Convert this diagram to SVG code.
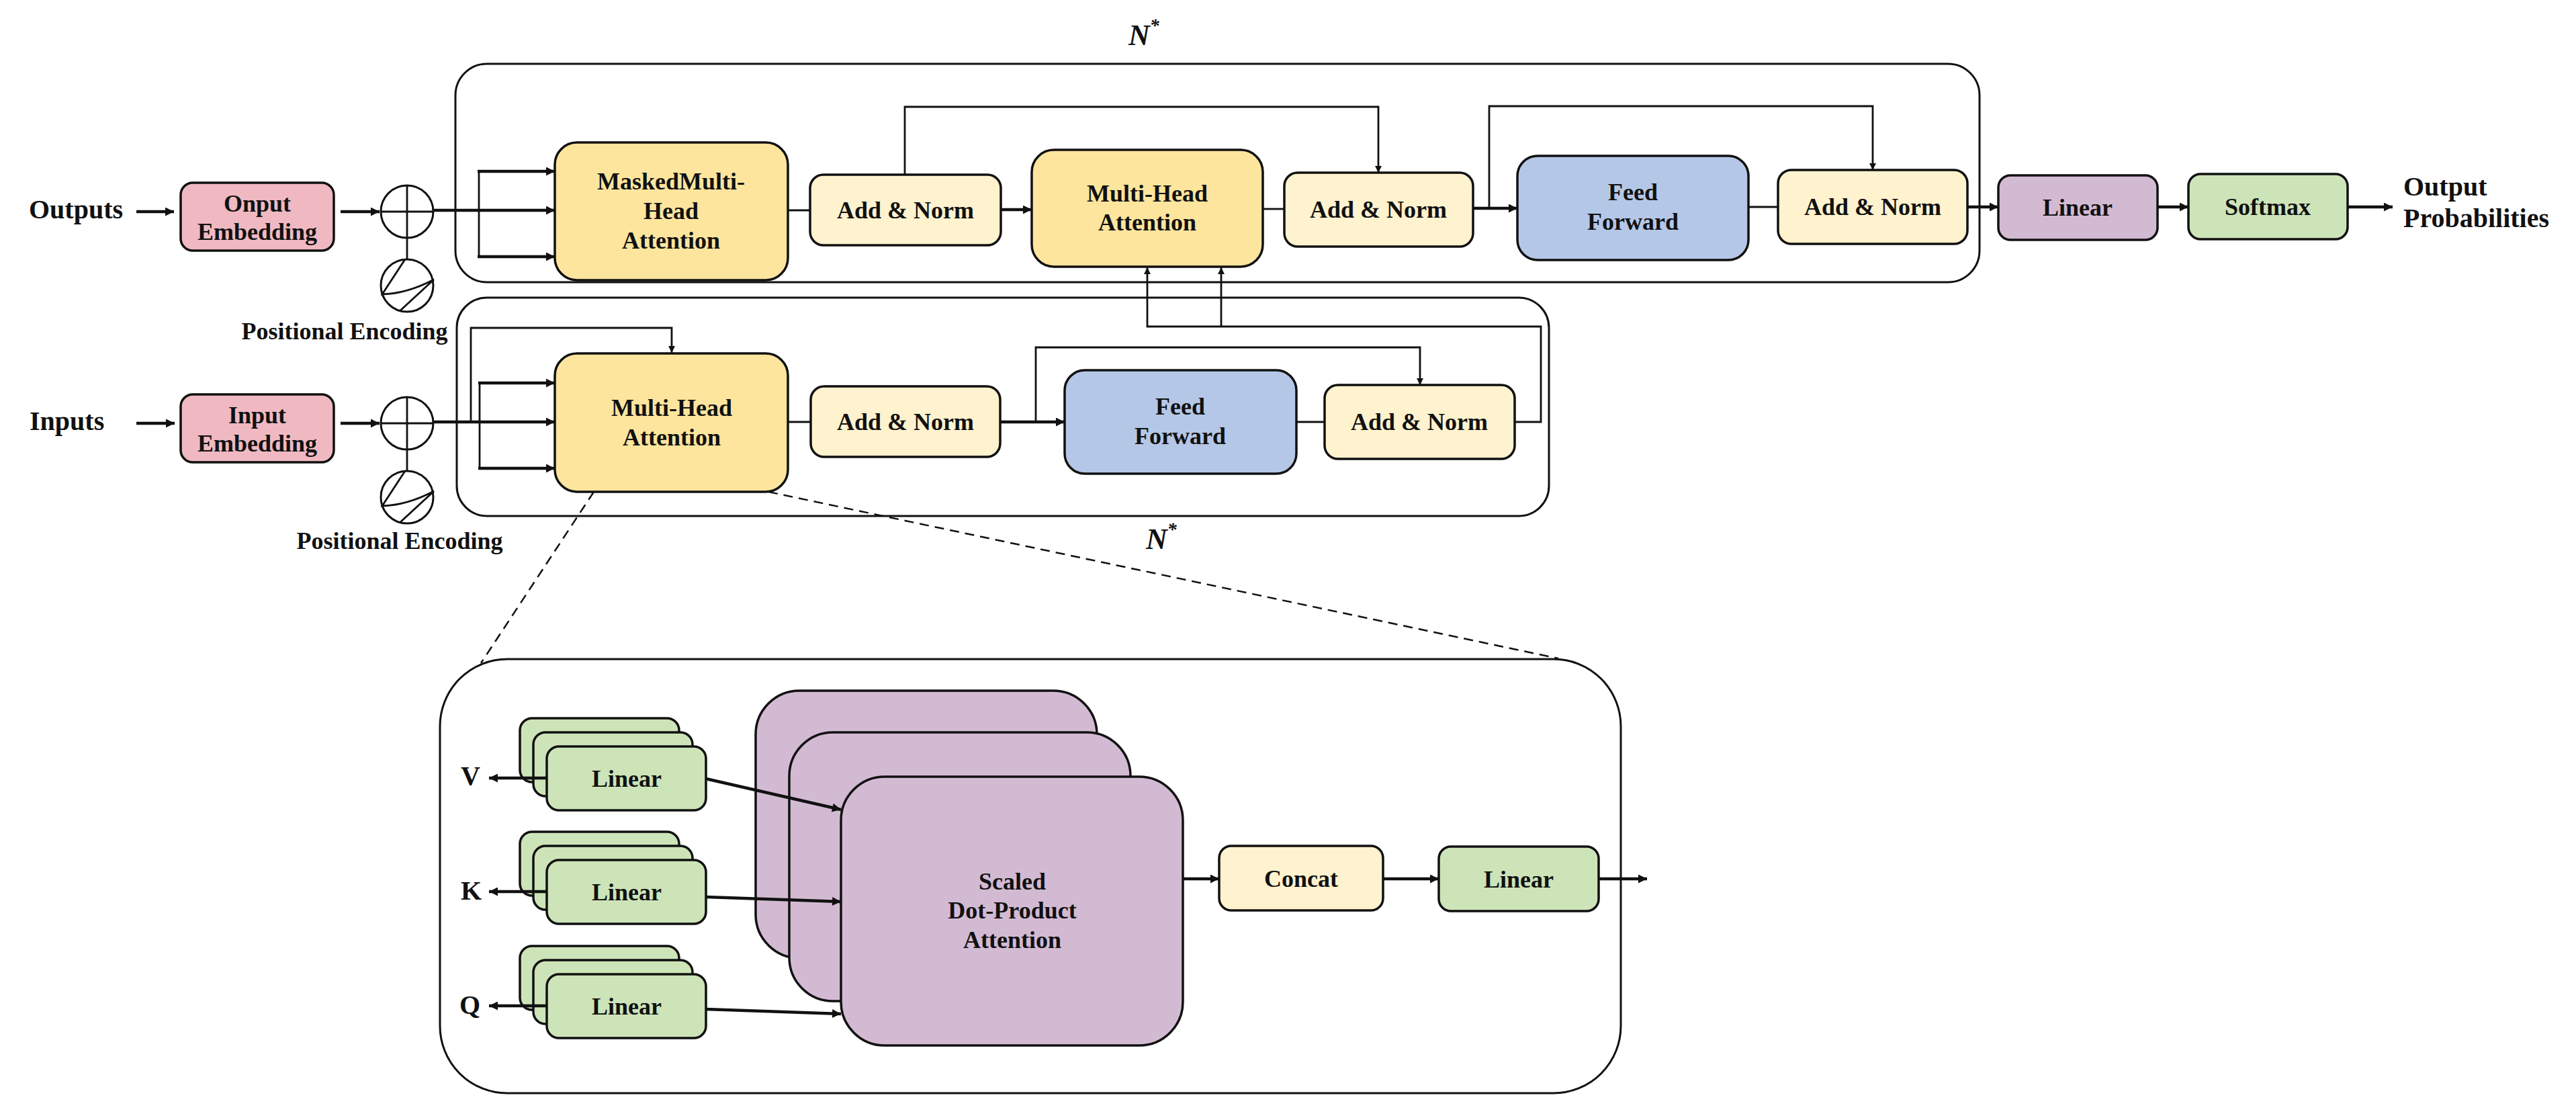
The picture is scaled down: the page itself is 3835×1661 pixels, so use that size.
<svg xmlns="http://www.w3.org/2000/svg" xmlns:xlink="http://www.w3.org/1999/xlink" width="3835" height="1661" viewBox="0 0 3835 1661">
<style>
.box{stroke:#111;stroke-width:3.5}
.cont{fill:none;stroke:#111;stroke-width:3}
.pink{fill:#F0B9C2}.gold{fill:#FDE59D}.cream{fill:#FFF2CE}.blue{fill:#B5C7E7}.purp{fill:#D3BAD3}.green{fill:#CDE4B8}
.t{font-family:"Liberation Serif",serif;font-weight:bold;font-size:36px;text-anchor:middle;fill:#111}
.l{font-family:"Liberation Serif",serif;font-weight:bold;font-size:40px;fill:#111}
.n{font-family:"Liberation Serif",serif;font-weight:bold;font-style:italic;font-size:44px;fill:#111}
.w{fill:none;stroke:#111;stroke-width:4.5}
.th{fill:none;stroke:#111;stroke-width:2.8}
.dash{fill:none;stroke:#111;stroke-width:2.5;stroke-dasharray:14 9}
.sym{fill:#fff;stroke:#111;stroke-width:3}
</style>
<defs>
<marker id="a" viewBox="0 0 10 10" refX="10" refY="5" markerWidth="16" markerHeight="13" markerUnits="userSpaceOnUse" orient="auto"><path d="M0,0L10,5L0,10z" fill="#111"/></marker>
<marker id="s" viewBox="0 0 10 10" refX="10" refY="5" markerWidth="13" markerHeight="10" markerUnits="userSpaceOnUse" orient="auto"><path d="M0,0L10,5L0,10z" fill="#111"/></marker>
<g id="plus"><circle r="39" class="sym"/><path d="M-39,0H39M0,-39V39" class="th"/></g>
<g id="sine"><circle r="39" class="sym"/><path d="M-3,-39L-37,13Q0,12 40,-9L-11,38" class="th"/></g>
</defs>

<g id="containers">
<rect id="decoder-block" x="678" y="95" width="2269" height="325" rx="47" class="cont"/>
<rect id="encoder-block" x="680" y="443" width="1626" height="325" rx="45" class="cont"/>
<rect id="attention-detail" x="655" y="981" width="1758" height="646" rx="100" class="cont"/>
</g>

<g id="labels">
<text class="n" x="1680" y="67">N<tspan font-size="28" dy="-20">*</tspan></text>
<text class="n" x="1706" y="817">N<tspan font-size="28" dy="-20">*</tspan></text>
<text class="l" x="43" y="325">Outputs</text>
<text class="l" x="44" y="640">Inputs</text>
<text class="l" x="3578" y="291">Output</text>
<text class="l" x="3578" y="338">Probabilities</text>
<text class="t" x="513" y="505">Positional Encoding</text>
<text class="t" x="595" y="817">Positional Encoding</text>
<text class="l" x="686" y="1168" font-size="44">V</text>
<text class="l" x="686" y="1339" font-size="44">K</text>
<text class="l" x="684" y="1509" font-size="44">Q</text>
</g>

<g id="onput-embedding"><rect x="269" y="272" width="228" height="101" rx="18" class="box pink"/><text class="t" x="383" y="315">Onput</text><text class="t" x="383" y="357">Embedding</text></g>
<g id="input-embedding"><rect x="269" y="587" width="228" height="101" rx="18" class="box pink"/><text class="t" x="383" y="630">Input</text><text class="t" x="383" y="672">Embedding</text></g>
<g id="dec-plus"><use xlink:href="#plus" x="606" y="315"/></g>
<g id="dec-pe"><use xlink:href="#sine" x="606" y="425"/></g>
<g id="enc-plus"><use xlink:href="#plus" x="606" y="630"/></g>
<g id="enc-pe"><use xlink:href="#sine" x="606" y="740"/></g>

<g id="masked-mha"><rect x="826" y="212" width="347" height="205" rx="33" class="box gold"/><text class="t" x="999" y="282">MaskedMulti-</text><text class="t" x="999" y="326">Head</text><text class="t" x="999" y="370">Attention</text></g>
<g id="dec-addnorm1"><rect x="1206" y="260" width="284" height="105" rx="20" class="box cream"/><text class="t" x="1348" y="325">Add &amp; Norm</text></g>
<g id="dec-mha"><rect x="1536" y="223" width="344" height="174" rx="33" class="box gold"/><text class="t" x="1708" y="300">Multi-Head</text><text class="t" x="1708" y="343">Attention</text></g>
<g id="dec-addnorm2"><rect x="1912" y="257" width="281" height="110" rx="20" class="box cream"/><text class="t" x="2052" y="324">Add &amp; Norm</text></g>
<g id="dec-ff"><rect x="2259" y="232" width="344" height="155" rx="30" class="box blue"/><text class="t" x="2431" y="298">Feed</text><text class="t" x="2431" y="342">Forward</text></g>
<g id="dec-addnorm3"><rect x="2647" y="253" width="282" height="110" rx="20" class="box cream"/><text class="t" x="2788" y="320">Add &amp; Norm</text></g>
<g id="out-linear"><rect x="2975" y="261" width="237" height="96" rx="18" class="box purp"/><text class="t" x="3093" y="321">Linear</text></g>
<g id="softmax"><rect x="3258" y="259" width="237" height="97" rx="18" class="box green"/><text class="t" x="3376" y="320">Softmax</text></g>

<g id="enc-mha"><rect x="826" y="526" width="347" height="206" rx="33" class="box gold"/><text class="t" x="1000" y="619">Multi-Head</text><text class="t" x="1000" y="663">Attention</text></g>
<g id="enc-addnorm1"><rect x="1207" y="575" width="282" height="105" rx="20" class="box cream"/><text class="t" x="1348" y="640">Add &amp; Norm</text></g>
<g id="enc-ff"><rect x="1585" y="551" width="345" height="154" rx="30" class="box blue"/><text class="t" x="1757" y="617">Feed</text><text class="t" x="1757" y="661">Forward</text></g>
<g id="enc-addnorm2"><rect x="1972" y="573" width="283" height="110" rx="20" class="box cream"/><text class="t" x="2113" y="640">Add &amp; Norm</text></g>

<g id="linear-v"><rect x="774" y="1069" width="237" height="95" rx="18" class="box green"/><rect x="794" y="1090" width="237" height="95" rx="18" class="box green"/><rect x="814" y="1111" width="237" height="95" rx="18" class="box green"/><text class="t" x="933" y="1171">Linear</text></g>
<g id="linear-k"><rect x="774" y="1238" width="237" height="95" rx="18" class="box green"/><rect x="794" y="1259" width="237" height="95" rx="18" class="box green"/><rect x="814" y="1280" width="237" height="95" rx="18" class="box green"/><text class="t" x="933" y="1340">Linear</text></g>
<g id="linear-q"><rect x="774" y="1408" width="237" height="95" rx="18" class="box green"/><rect x="794" y="1429" width="237" height="95" rx="18" class="box green"/><rect x="814" y="1450" width="237" height="95" rx="18" class="box green"/><text class="t" x="933" y="1510">Linear</text></g>
<g id="sdpa"><rect x="1125" y="1028" width="508" height="398" rx="65" class="box purp"/><rect x="1175" y="1090" width="508" height="400" rx="65" class="box purp"/><rect x="1252" y="1156" width="509" height="400" rx="65" class="box purp"/><text class="t" x="1507" y="1324">Scaled</text><text class="t" x="1507" y="1367">Dot-Product</text><text class="t" x="1507" y="1411">Attention</text></g>
<g id="concat"><rect x="1815" y="1259" width="244" height="96" rx="18" class="box cream"/><text class="t" x="1937" y="1320">Concat</text></g>
<g id="att-linear"><rect x="2142" y="1260" width="238" height="96" rx="18" class="box green"/><text class="t" x="2261" y="1321">Linear</text></g>

<g id="connectors">
<!-- decoder -->
<path d="M203,315H259" class="w" marker-end="url(#a)"/>
<path d="M507,315H565" class="w" marker-end="url(#a)"/>
<path d="M645,313H826" class="w" marker-end="url(#a)"/>
<path d="M713,255V383" class="th"/>
<path d="M711,255H826" class="w" marker-end="url(#a)"/>
<path d="M711,382H826" class="w" marker-end="url(#a)"/>
<path d="M606,354V386" class="th"/>
<path d="M1173,313H1206" class="th"/>
<path d="M1490,312H1536" class="w" marker-end="url(#a)"/>
<path d="M1880,311H1912" class="th"/>
<path d="M1347,260V159H2052V257" class="th" marker-end="url(#s)"/>
<path d="M2193,310H2259" class="w" marker-end="url(#a)"/>
<path d="M2217,310V158H2788V253" class="th" marker-end="url(#s)"/>
<path d="M2603,308H2647" class="th"/>
<path d="M2929,308H2975" class="w" marker-end="url(#a)"/>
<path d="M3212,308H3258" class="w" marker-end="url(#a)"/>
<path d="M3495,308H3562" class="w" marker-end="url(#a)"/>
<!-- encoder to decoder -->
<path d="M2255,628H2294V486H1708V398" class="th" marker-end="url(#s)"/>
<path d="M1818,486V398" class="th" marker-end="url(#s)"/>
<!-- encoder -->
<path d="M203,630H260" class="w" marker-end="url(#a)"/>
<path d="M507,630H565" class="w" marker-end="url(#a)"/>
<path d="M645,628H826" class="w" marker-end="url(#a)"/>
<path d="M714,570V697" class="th"/>
<path d="M712,570H826" class="w" marker-end="url(#a)"/>
<path d="M712,697H826" class="w" marker-end="url(#a)"/>
<path d="M606,669V701" class="th"/>
<path d="M701,628V488H1000V525" class="th" marker-end="url(#s)"/>
<path d="M1173,628H1207" class="th"/>
<path d="M1489,628H1585" class="w" marker-end="url(#a)"/>
<path d="M1542,628V517H2114V573" class="th" marker-end="url(#s)"/>
<path d="M1930,628H1972" class="th"/>
<!-- zoom dashed -->
<path d="M884,732L716,987" class="dash"/>
<path d="M1144,732L2320,980" class="dash"/>
<!-- attention detail -->
<path d="M814,1158H728" class="w" marker-end="url(#a)"/>
<path d="M814,1327H728" class="w" marker-end="url(#a)"/>
<path d="M814,1497H728" class="w" marker-end="url(#a)"/>
<path d="M1051,1159L1252,1205" class="w" marker-end="url(#a)"/>
<path d="M1051,1335L1252,1342" class="w" marker-end="url(#a)"/>
<path d="M1051,1502L1252,1509" class="w" marker-end="url(#a)"/>
<path d="M1761,1308H1815" class="w" marker-end="url(#a)"/>
<path d="M2059,1308H2142" class="w" marker-end="url(#a)"/>
<path d="M2380,1308H2452" class="w" marker-end="url(#a)"/>
</g>
</svg>
